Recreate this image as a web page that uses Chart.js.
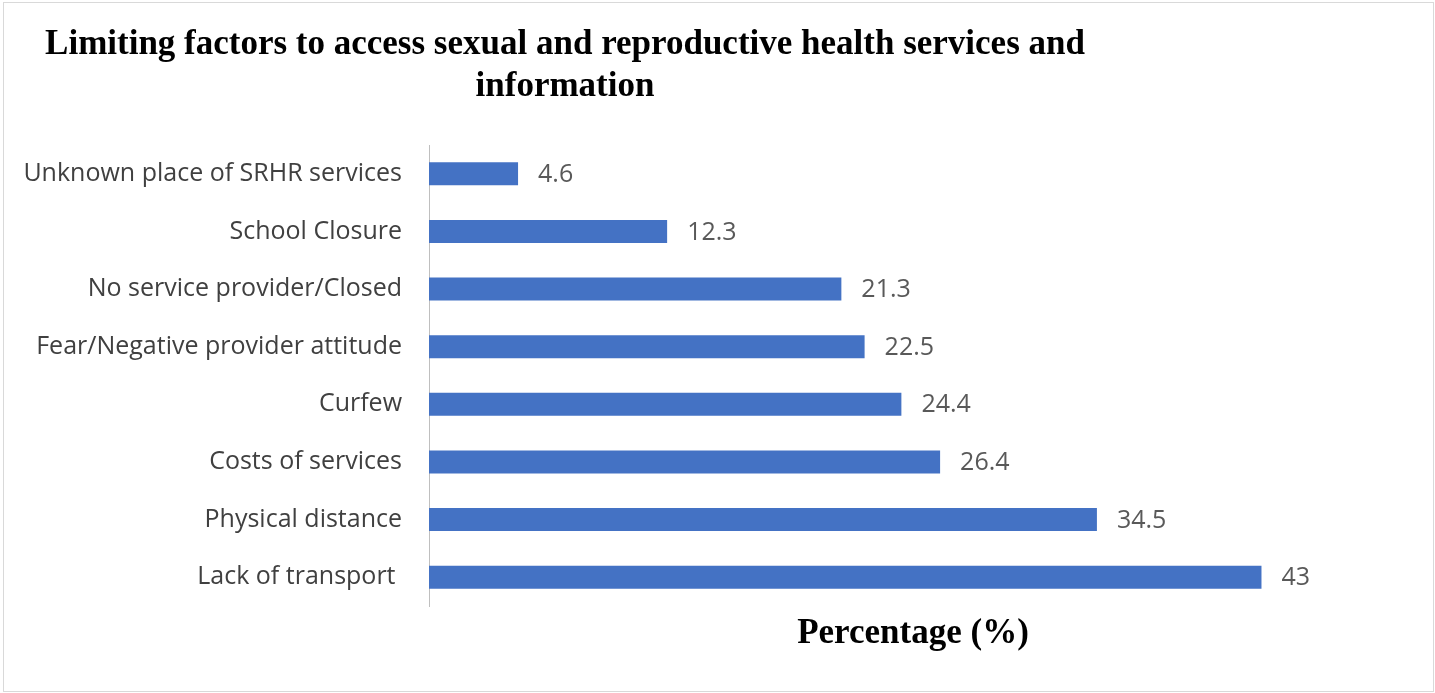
<!DOCTYPE html>
<html>
<head>
<meta charset="utf-8">
<title>Limiting factors to access SRH services</title>
<script src="https://cdn.jsdelivr.net/npm/chart.js@4/dist/chart.umd.min.js"></script>
<style>
  html, body { margin: 0; padding: 0; background: #fff; }
  #chart { display: block; }
</style>
</head>
<body>
<canvas id="chart" width="1435" height="693"></canvas>
<script>
const categories = [
  "Unknown place of SRHR services",
  "School Closure",
  "No service provider/Closed",
  "Fear/Negative provider attitude",
  "Curfew",
  "Costs of services",
  "Physical distance",
  "Lack of transport "
];
const percentages = [4.6, 12.3, 21.3, 22.5, 24.4, 26.4, 34.5, 43];
const titleLines = [
  "Limiting factors to access sexual and reproductive health services and",
  "information"
];
const axisTitle = "Percentage (%)";

const labelFont = "'Open Sans', 'Noto Sans', sans-serif";
const serifFont = "'Liberation Serif', 'DejaVu Serif', serif";

// frame + two-line title, centred left of the plot like the original
const frameAndTitle = {
  id: "frameAndTitle",
  beforeDraw(chart) {
    const ctx = chart.ctx;
    ctx.save();
    ctx.fillStyle = "#ffffff";
    ctx.fillRect(0, 0, chart.width, chart.height);
    ctx.strokeStyle = "#d9d9d9";
    ctx.lineWidth = 1;
    ctx.strokeRect(3.5, 2.5, chart.width - 5, chart.height - 4);
    ctx.restore();
  },
  afterDraw(chart) {
    const ctx = chart.ctx;
    ctx.save();
    ctx.fillStyle = "#000000";
    ctx.font = "bold 35px " + serifFont;
    ctx.textAlign = "center";
    ctx.textBaseline = "alphabetic";
    titleLines.forEach((line, i) => ctx.fillText(line, 565, 54 + i * 42));
    ctx.restore();
  }
};

// value labels at the end of each bar
const valueLabels = {
  id: "valueLabels",
  afterDatasetsDraw(chart) {
    const ctx = chart.ctx;
    const meta = chart.getDatasetMeta(0);
    ctx.save();
    ctx.fillStyle = "#595959";
    ctx.font = "25px " + labelFont;
    ctx.textAlign = "left";
    ctx.textBaseline = "middle";
    meta.data.forEach((bar, i) => {
      ctx.fillText(String(percentages[i]), bar.x + 20, bar.y + 1);
    });
    ctx.restore();
  }
};

new Chart(document.getElementById("chart"), {
  type: "bar",
  data: {
    labels: categories,
    datasets: [{
      data: percentages,
      backgroundColor: "#4472C4",
      borderWidth: 0,
      barPercentage: 0.4,
      categoryPercentage: 1
    }]
  },
  options: {
    indexAxis: "y",
    responsive: false,
    animation: false,
    layout: {
      padding: { top: 145, left: 25, right: 38, bottom: 30 }
    },
    plugins: {
      legend: { display: false },
      title: { display: false },
      tooltip: { enabled: false }
    },
    scales: {
      x: {
        min: 0,
        max: 50,
        grid: { display: false, drawTicks: false },
        border: { display: false },
        ticks: { display: false },
        title: {
          display: true,
          text: axisTitle,
          color: "#000000",
          font: { family: serifFont, size: 35, weight: "bold" },
          padding: { top: 7, bottom: 8 }
        }
      },
      y: {
        grid: { display: false, drawTicks: false },
        border: { display: true, color: "#bfbfbf", dash: [3, 2], width: 1 },
        ticks: {
          color: "#404040",
          padding: 27,
          font: { family: labelFont, size: 25 }
        },
        afterFit(scale) { scale.width = 404; }
      }
    }
  },
  plugins: [frameAndTitle, valueLabels]
});
</script>
</body>
</html>
